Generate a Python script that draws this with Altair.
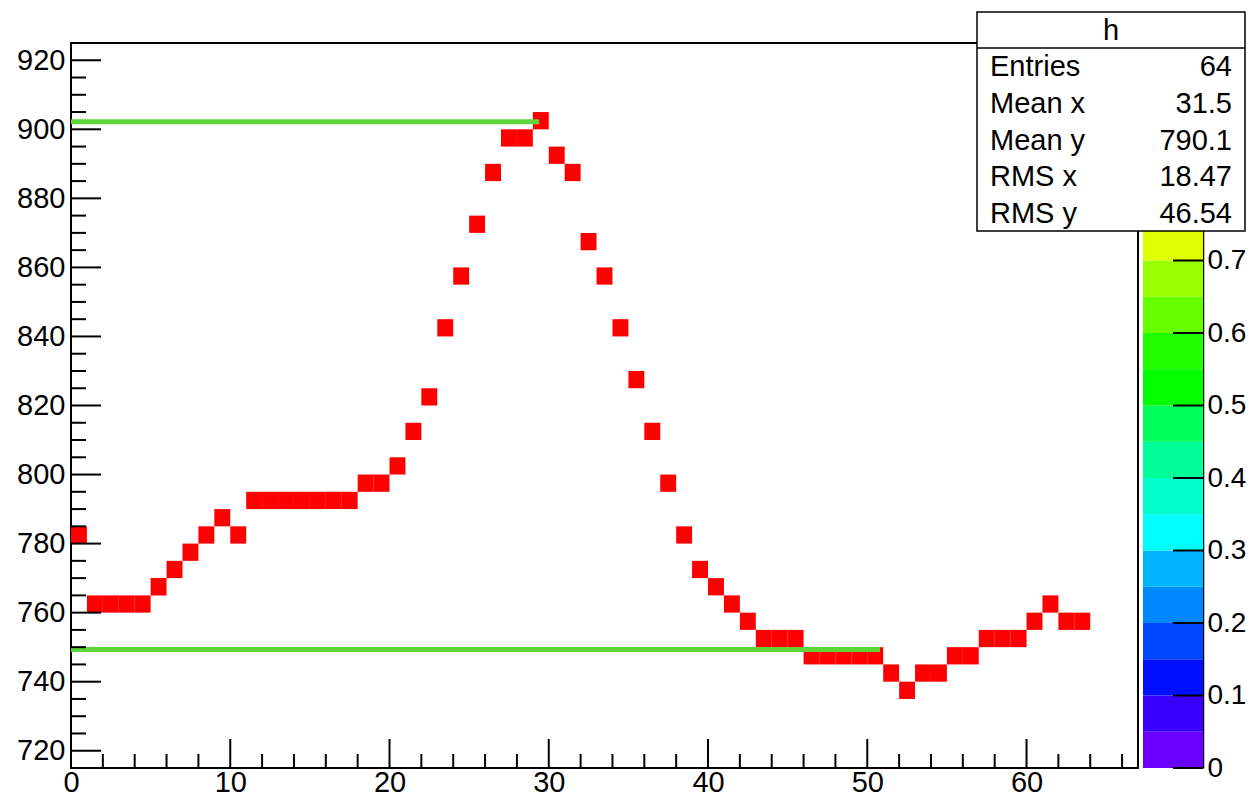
import altair as alt
import pandas as pd

# ---- data ----
cell_x = list(range(64))
cell_y = [780, 760, 760, 760, 760, 765, 770, 775, 780, 785, 780,
          790, 790, 790, 790, 790, 790, 790, 795, 795,
          800, 810, 820, 840, 855, 870, 885, 895, 895, 900,
          890, 885, 865, 855, 840, 825, 810, 795, 780, 770,
          765, 760, 755, 750, 750, 750, 745, 745, 745, 745, 745,
          740, 735, 740, 740, 745, 745, 750, 750, 750, 755, 760, 755, 755]
assert len(cell_y) == len(cell_x)

green_y = [902.2, 749.3]
green_x_start = [0, 0]
green_x_end = [29.4, 50.8]

x_major = [0, 10, 20, 30, 40, 50, 60]
x_minor = [v for v in range(2, 67, 2) if v % 10 != 0]
y_major = [720, 740, 760, 780, 800, 820, 840, 860, 880, 900, 920]
y_minor = [v for v in range(725, 920, 5) if v % 20 != 0]

pal_lo = [0.00, 0.05, 0.10, 0.15, 0.20, 0.25, 0.30, 0.35, 0.40, 0.45,
          0.50, 0.55, 0.60, 0.65, 0.70, 0.75, 0.80, 0.85, 0.90, 0.95]
pal_colors = ["#6a00ff", "#3a00ff", "#0010ff", "#0048ff", "#0088ff",
              "#00b4ff", "#00ffff", "#00ffcc", "#00ff99", "#00ff5a",
              "#00ff00", "#1eff00", "#66ff00", "#99ff00", "#ddff00",
              "#ffee00", "#ffaa00", "#ff7700", "#ff4400", "#ff0000"]
pal_ticks = [0, 0.1, 0.2, 0.3, 0.4, 0.5, 0.6, 0.7, 0.8, 0.9, 1.0]

stat_title = "h"
stat_labels = ["Entries", "Mean x", "Mean y", "RMS x", "RMS y"]
stat_values = ["64", "31.5", "790.1", "18.47", "46.54"]

# ---- layout constants ----
W, H = 1067, 725
FONT = "Liberation Sans"
FS = 29
XBIN, YBIN = 1, 5

xscale = alt.Scale(domain=[0, 67], nice=False, zero=False)
yscale = alt.Scale(domain=[715, 925], nice=False, zero=False)

df_cells = pd.DataFrame({"x": cell_x, "y": cell_y})
cells = alt.Chart(df_cells).transform_calculate(
    x2=f"datum.x + {XBIN}", y2=f"datum.y + {YBIN}"
).mark_rect(color="#ff0000").encode(
    x=alt.X("x:Q", scale=xscale,
            axis=alt.Axis(values=x_major, title=None, ticks=False, tickSize=0,
                          domain=False, grid=False, labelPadding=0,
                          labelFlush=False, labelOverlap=False,
                          labelFont=FONT, labelFontSize=FS, labelColor="black")),
    x2="x2:Q",
    y=alt.Y("y:Q", scale=yscale,
            axis=alt.Axis(values=y_major, title=None, ticks=False, tickSize=0,
                          domain=False, grid=False, labelPadding=6,
                          labelFlush=False, labelOverlap=False,
                          labelFont=FONT, labelFontSize=FS, labelColor="black")),
    y2="y2:Q",
)

df_green = pd.DataFrame({"y": green_y, "x0": green_x_start, "x1": green_x_end})
green = alt.Chart(df_green).mark_rule(color="#5fd43a", strokeWidth=5).encode(
    x=alt.X("x0:Q"), x2="x1:Q", y=alt.Y("y:Q")
)

def yticks(vals, length):
    return alt.Chart(pd.DataFrame({"v": vals})).mark_rule(color="black", strokeWidth=2).encode(
        y=alt.Y("v:Q"), x=alt.value(0), x2=alt.value(length))

def xticks(vals, length):
    return alt.Chart(pd.DataFrame({"v": vals})).mark_rule(color="black", strokeWidth=2).encode(
        x=alt.X("v:Q"), y=alt.value(H), y2=alt.value(H - length))

main = alt.layer(cells, green, yticks(y_major, 30), yticks(y_minor, 15),
                 xticks(x_major, 29), xticks(x_minor, 14))

# ---- palette ----
PX0, PX1 = 1072, 1132
df_pal = pd.DataFrame({"lo": pal_lo, "c": pal_colors})
bands = alt.Chart(df_pal).transform_calculate(hi="datum.lo + 0.05").mark_rect().encode(
    x=alt.value(PX0), x2=alt.value(PX1),
    y=alt.Y("lo:Q", scale=alt.Scale(domain=[0, 1], nice=False, zero=True),
            axis=alt.Axis(orient="right", offset=PX1 - W, values=pal_ticks,
                          format=".1~f", title=None, ticks=False, tickSize=0,
                          domain=True, domainColor="black", domainWidth=1.5,
                          grid=False, labelPadding=4, labelFlush=False,
                          labelOverlap=False, labelFont=FONT, labelFontSize=28,
                          labelColor="black")),
    y2="hi:Q",
    color=alt.Color("c:N", scale=None),
)
pticks = alt.Chart(pd.DataFrame({"v": pal_ticks})).mark_rule(color="black", strokeWidth=2).encode(
    y=alt.Y("v:Q"), x=alt.value(PX1 - 30), x2=alt.value(PX1))
pal = alt.layer(bands, pticks)

# ---- stats box ----
BX0, BX1, BY0, BY1 = 906, 1174, -31, 188
HEAD = 5
one = pd.DataFrame({"k": [0]})
box = alt.Chart(one).mark_rect(fill="white", stroke="black", strokeWidth=1.5).encode(
    x=alt.value(BX0), x2=alt.value(BX1), y=alt.value(BY0), y2=alt.value(BY1))
headline = alt.Chart(one).mark_rule(color="black", strokeWidth=1.5).encode(
    x=alt.value(BX0), x2=alt.value(BX1), y=alt.value(HEAD))
texts = [alt.Chart(pd.DataFrame({"t": [stat_title]})).mark_text(
    font=FONT, fontSize=FS, align="center", baseline="middle", color="black").encode(
    text="t:N", x=alt.value((BX0 + BX1) / 2), y=alt.value((BY0 + HEAD) / 2 + 1))]
row_h = (BY1 - HEAD) / len(stat_labels)
for i, (lab, val) in enumerate(zip(stat_labels, stat_values)):
    yc = HEAD + row_h * (i + 0.5) + 1
    texts.append(alt.Chart(pd.DataFrame({"t": [lab]})).mark_text(
        font=FONT, fontSize=FS, align="left", baseline="middle", color="black").encode(
        text="t:N", x=alt.value(BX0 + 13), y=alt.value(yc)))
    texts.append(alt.Chart(pd.DataFrame({"t": [val]})).mark_text(
        font=FONT, fontSize=FS, align="right", baseline="middle", color="black").encode(
        text="t:N", x=alt.value(BX1 - 13), y=alt.value(yc)))
stats = alt.layer(box, headline, *texts)

chart = alt.layer(main, pal, stats).resolve_scale(y="independent").properties(
    width=W, height=H,
    autosize=alt.AutoSizeParams(type="none"),
    padding={"left": 63, "top": 35, "right": 109, "bottom": 25},
    background="white",
).configure_view(stroke="black", strokeWidth=2)

chart.save("out.html", embed_options={"renderer": "svg", "actions": False})
